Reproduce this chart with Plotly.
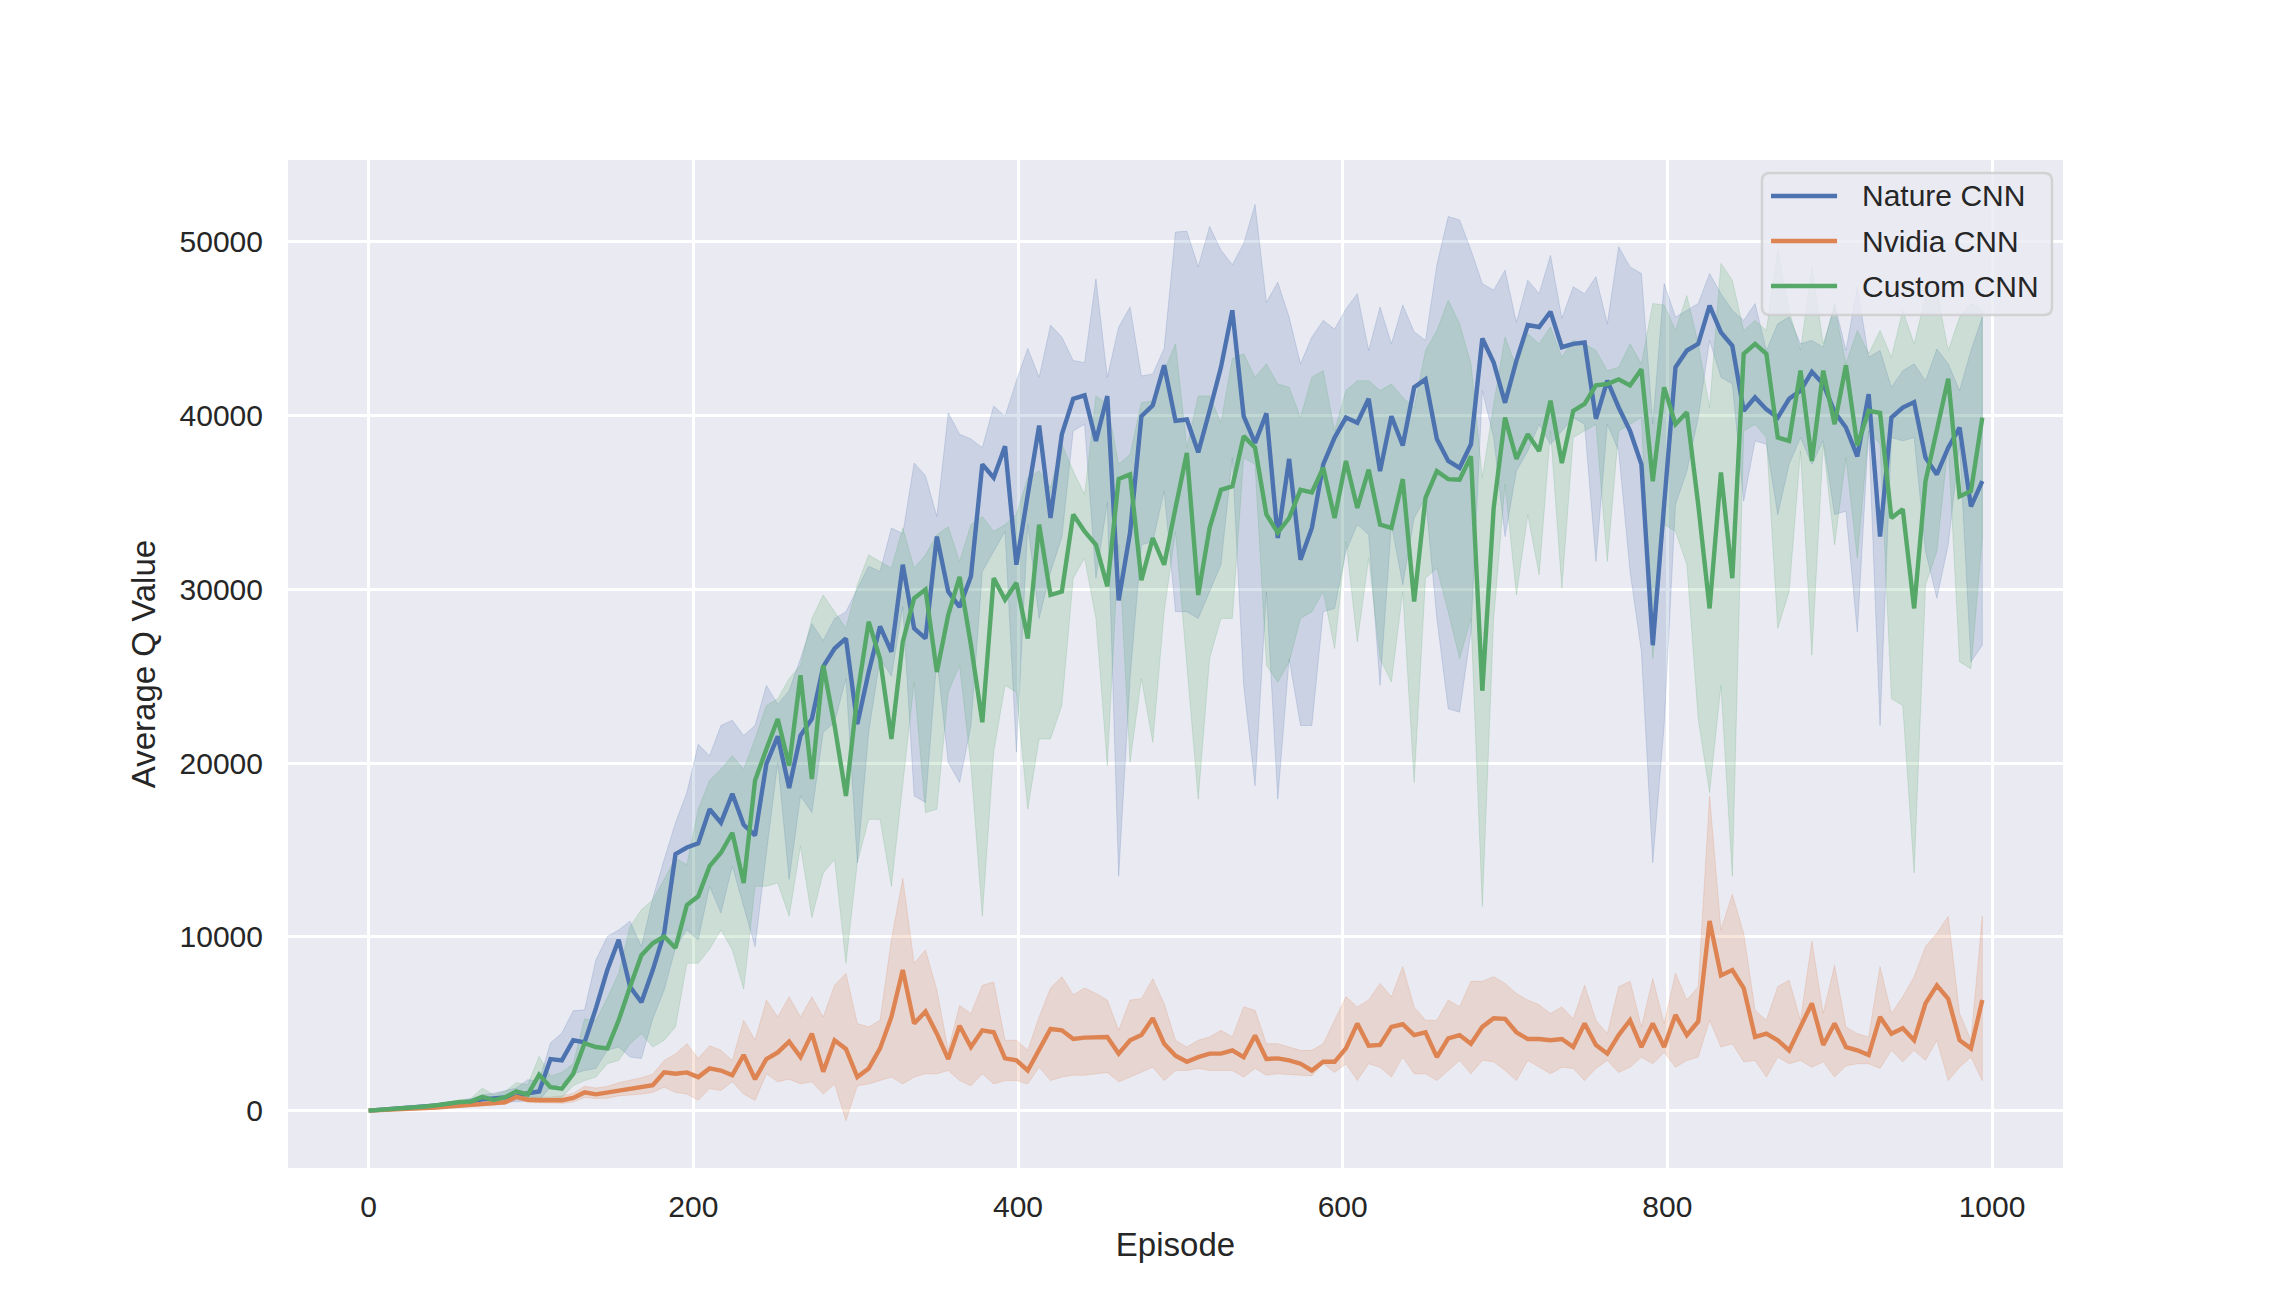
import plotly.graph_objects as go

# episodes are logged every 7 steps (0 .. 994)
EPISODES = list(range(0, 1000, 7))

NATURE_MEAN = [
    0, 40, 80, 130, 180, 240, 300, 380, 430, 520,
    650, 700, 780, 820, 1000, 1100, 2970, 2890, 4050, 3930,
    5900, 8090, 9830, 7130, 6240, 8090, 10210, 14760, 15140, 15380,
    17340, 16570, 18230, 16450, 15840, 19960, 21540, 18570, 21580, 22540,
    25550, 26590, 27170, 22240, 25240, 27860, 26400, 31410, 27750, 27170,
    33030, 29870, 28980, 30750, 37190, 36420, 38230, 31410, 35450, 39420,
    34100, 38920, 40960, 41160, 38540, 41120, 29360, 33260, 39960, 40580,
    42890, 39690, 39770, 37880, 40270, 42770, 46050, 39960, 38420, 40120,
    32950, 37500, 31700, 33530, 37190, 38730, 39880, 39580, 40960, 36800,
    39960, 38270, 41620, 42080, 38650, 37380, 36990, 38340, 44430, 43040,
    40730, 43160, 45200, 45090, 45970, 43930, 44120, 44200, 39810, 42000,
    40460, 39110, 37190, 26780, 34880, 42770, 43740, 44120, 46320, 44780,
    44010, 40270, 41040, 40350, 39880, 40960, 41430, 42510, 41810, 40190,
    39310, 37650, 41230, 33030, 39880, 40460, 40770, 37570, 36610, 38150,
    39310, 34760, 36220]
NATURE_HIGH = [
    0, 60, 110, 170, 230, 300, 380, 470, 560, 680,
    900, 1000, 1150, 1300, 1780, 1700, 3900, 4470, 5750, 5800,
    8680, 10020, 10400, 10900, 9440, 12220, 14450, 16570, 18300, 21080,
    20420, 22160, 22470, 21580, 22160, 24470, 23390, 24160, 26010, 28020,
    27050, 28320, 28710, 30060, 31330, 31020, 33530, 33200, 37260, 36530,
    34180, 40150, 38920, 38650, 38150, 40540, 39960, 42000, 43850, 42200,
    45200, 44510, 43160, 43040, 47860, 42200, 45090, 46240, 42270, 42390,
    43850, 50560, 50600, 48550, 50870, 49520, 48670, 49900, 52140, 46510,
    47670, 45660, 42970, 44510, 45470, 44970, 46130, 47010, 43740, 46240,
    44120, 46360, 44820, 44320, 48670, 51450, 51250, 49520, 47590, 47210,
    48360, 45360, 47780, 47010, 49210, 45590, 47400, 47010, 47980, 45280,
    49710, 48550, 48170, 39500, 47590, 45660, 46050, 46440, 48170, 47010,
    46050, 45470, 46440, 43740, 45280, 45660, 44120, 44320, 43930, 46440,
    43740, 47400, 43350, 43740, 41620, 42580, 42970, 42000, 43820, 42970,
    41430, 43740, 45660]
NATURE_LOW = [
    0, 25, 55, 90, 130, 170, 210, 260, 300, 350,
    420, 450, 480, 500, 550, 600, 1350, 1540, 2120, 2310,
    2430, 3470, 3660, 3080, 3000, 5280, 6940, 9360, 10400, 9830,
    12910, 11370, 14070, 11750, 9440, 14840, 20040, 13300, 18110, 17150,
    21770, 22350, 24860, 14260, 21770, 26010, 25000, 29000, 18110, 17730,
    26000, 20040, 18880, 22160, 31020, 32180, 33330, 20620, 33720, 28320,
    31000, 33000, 39110, 39500, 30640, 35000, 13490, 24860, 32560, 32750,
    35640, 28710, 28710, 28320, 29870, 31410, 37570, 24470, 18690, 29870,
    17920, 26000, 22160, 22160, 28710, 28900, 32180, 33720, 33140, 24470,
    33720, 30250, 34100, 35260, 28320, 23120, 22930, 27550, 41430, 38730,
    33030, 36800, 37960, 39500, 38340, 39110, 39880, 39500, 31600, 39500,
    37960, 31020, 26400, 14260, 22160, 34880, 36800, 39880, 44320, 42200,
    41810, 35070, 38540, 38340, 34300, 37190, 38730, 37190, 38540, 34300,
    34490, 27550, 39110, 22160, 38730, 38540, 38730, 32180, 29480, 32560,
    38340, 25820, 26780]

NVIDIA_MEAN = [
    0, 20, 40, 70, 100, 140, 180, 230, 280, 330,
    380, 400, 480, 790, 630, 600, 580, 600, 730, 1050,
    940, 1040, 1190, 1270, 1350, 1460, 2200, 2120, 2200, 1930,
    2430, 2310, 2040, 3200, 1810, 2970, 3350, 3970, 3080, 4430,
    2240, 4050, 3550, 1930, 2430, 3580, 5390, 8090, 5010, 5700,
    4430, 2970, 4890, 3660, 4620, 4510, 3010, 2890, 2310, 3470,
    4700, 4620, 4120, 4200, 4240, 4240, 3280, 4050, 4350, 5320,
    3850, 3160, 2810, 3080, 3280, 3280, 3470, 3080, 4320, 2970,
    3010, 2890, 2700, 2310, 2810, 2810, 3580, 5010, 3740, 3780,
    4820, 4970, 4350, 4510, 3080, 4160, 4350, 3850, 4820, 5320,
    5280, 4510, 4120, 4120, 4050, 4120, 3660, 5010, 3780, 3280,
    4350, 5200, 3660, 5010, 3660, 5510, 4350, 5130, 10910, 7780,
    8090, 7050, 4240, 4430, 4050, 3470, 4820, 6170, 3780, 5010,
    3660, 3470, 3200, 5390, 4430, 4740, 4050, 6170, 7210, 6440,
    4050, 3580, 6360]
NVIDIA_HIGH = [
    0, 25, 50, 85, 120, 170, 220, 280, 340, 400,
    470, 500, 620, 950, 780, 800, 780, 850, 1000, 1400,
    1300, 1400, 1600, 1750, 1900, 2100, 2890, 3260, 3850, 3010,
    3740, 3470, 2890, 5200, 4050, 6360, 5390, 6550, 5390, 6550,
    5390, 7210, 7900, 5010, 4820, 5200, 9830, 13370, 8480, 9250,
    6940, 3470, 6050, 5590, 7210, 7400, 4050, 4050, 3470, 5390,
    7050, 7710, 6670, 7050, 6740, 6360, 4620, 6360, 6440, 7590,
    6170, 4050, 3660, 4050, 4240, 4620, 4240, 5970, 5780, 3850,
    3850, 3660, 3470, 3470, 3850, 5200, 6550, 5970, 6360, 7320,
    6550, 8290, 5970, 5200, 5200, 6360, 5970, 7440, 7440, 7710,
    7320, 6740, 6360, 6090, 5590, 5970, 5280, 7210, 5200, 4430,
    7130, 7440, 4820, 7590, 5010, 7900, 6360, 7130, 18100, 10400,
    12450, 10210, 5780, 5200, 7130, 7510, 5200, 9750, 5590, 8360,
    4820, 4430, 4240, 8290, 5590, 6550, 7710, 9440, 10210, 11180,
    5590, 4050, 11180]
NVIDIA_LOW = [
    0, 15, 30, 55, 80, 110, 140, 180, 220, 260,
    300, 320, 380, 650, 480, 450, 430, 420, 500, 750,
    700, 720, 850, 900, 950, 1050, 1350, 1040, 960, 600,
    1270, 1160, 1660, 960, 580, 2120, 1660, 1810, 1540, 1660,
    960, 1540, -580, 1430, 1540, 1730, 1930, 1540, 1930, 2120,
    2120, 2310, 1730, 1430, 2120, 1540, 1730, 1730, 1540, 2500,
    1730, 1930, 2040, 2040, 2120, 2200, 1660, 1930, 2200, 2500,
    1730, 2310, 2310, 2430, 2310, 2310, 2310, 1930, 2430, 2040,
    2120, 2120, 2040, 2000, 2700, 2200, 2700, 1730, 2700, 2500,
    1930, 3080, 2120, 2120, 1730, 2310, 2890, 2120, 2890, 2810,
    2310, 1730, 2890, 2500, 2120, 2500, 2430, 1730, 2430, 2890,
    2200, 2500, 3080, 2700, 3350, 2500, 2890, 3080, 5200, 3660,
    3850, 2810, 2890, 1930, 3080, 2700, 2890, 2500, 2810, 1930,
    2580, 2700, 2700, 2430, 3470, 2810, 3470, 2890, 4050, 1730,
    2500, 3080, 1730]

CUSTOM_MEAN = [
    0, 40, 80, 130, 170, 240, 310, 420, 500, 520,
    790, 610, 770, 1110, 920, 2070, 1350, 1270, 2120, 3880,
    3660, 3580, 5200, 7130, 8940, 9630, 10020, 9360, 11830, 12330,
    14070, 14840, 15990, 13100, 19000, 20810, 22540, 19850, 25050, 19080,
    25630, 22160, 18110, 23890, 28130, 26010, 21390, 26970, 29480, 29980,
    25240, 28520, 30710, 26780, 22350, 30640, 29400, 30370, 27170, 33720,
    29670, 29870, 34300, 33330, 32560, 30170, 36340, 36610, 30520, 32950,
    31410, 34680, 37840, 29670, 33530, 35720, 35920, 38810, 38150, 34300,
    33260, 34100, 35720, 35570, 36990, 34100, 37380, 34680, 36880, 33720,
    33530, 36340, 29290, 35260, 36800, 36340, 36300, 37650, 24160, 34680,
    39880, 37500, 38920, 37960, 40850, 37260, 40270, 40660, 41730, 41810,
    42080, 41730, 42660, 36220, 41620, 39500, 40190, 34870, 28900, 36720,
    30640, 43550, 44120, 43550, 38730, 38540, 42580, 37380, 42580, 39500,
    42890, 38270, 40270, 40150, 34100, 34610, 28900, 36220, 39110, 42120,
    35340, 35650, 39880]
CUSTOM_HIGH = [
    0, 50, 100, 160, 220, 300, 380, 480, 600, 700,
    1300, 900, 1100, 1600, 1500, 3130, 2000, 2200, 2700, 5280,
    5200, 6480, 7900, 10600, 11560, 12140, 13300, 14530, 14150, 17340,
    19000, 19650, 20420, 19650, 21390, 23310, 23700, 24860, 25630, 28320,
    29670, 28710, 27750, 30250, 31980, 31600, 31210, 33530, 31210, 31980,
    33140, 33600, 31600, 33720, 34180, 33330, 33720, 34300, 36420, 36800,
    35840, 38340, 36800, 35450, 41120, 40650, 37190, 37760, 40730, 40850,
    42580, 44120, 38150, 41120, 41120, 39580, 43280, 43550, 42200, 42970,
    41810, 41620, 39880, 42200, 42580, 39110, 41430, 42000, 42000, 41430,
    41810, 41040, 40460, 43740, 44890, 46630, 45280, 42970, 36420, 40650,
    44510, 42770, 44700, 44120, 45090, 43350, 44320, 44120, 43740, 42580,
    42770, 44120, 42970, 46440, 46360, 44890, 46900, 44120, 40460, 48750,
    47780, 44890, 45470, 44890, 49520, 46050, 43740, 48550, 44120, 46240,
    42970, 44890, 43550, 44890, 43350, 46050, 44120, 46820, 47210, 43740,
    45660, 46440, 46050]
CUSTOM_LOW = [
    0, 30, 60, 100, 130, 180, 240, 300, 370, 400,
    600, 450, 550, 700, 650, 580, 660, 770, 1430, 1730,
    1930, 2700, 2890, 3850, 4430, 3660, 4050, 4820, 8480, 8480,
    9300, 10400, 9250, 7000, 12910, 12910, 13100, 11180, 15220, 11100,
    13680, 14450, 8480, 14260, 16760, 16760, 12910, 18690, 24660, 17150,
    17340, 24080, 25630, 19850, 11180, 20620, 24470, 24080, 17340, 21390,
    21390, 23310, 30640, 31790, 28320, 19850, 32560, 20040, 24860, 21190,
    28710, 33330, 25630, 17920, 26010, 28320, 28320, 37570, 37190, 25630,
    24660, 25820, 28320, 28710, 29870, 26590, 32760, 26970, 31790, 26010,
    24660, 29870, 18880, 30640, 31210, 28710, 26010, 28320, 11750, 28320,
    36030, 29670, 34300, 30830, 39110, 30060, 38730, 39110, 39500, 31600,
    39110, 39500, 39880, 26010, 33720, 33330, 31410, 22540, 18300, 24470,
    13490, 39110, 39500, 38730, 27750, 29870, 37960, 26200, 38340, 32560,
    37570, 31790, 39110, 38340, 23700, 23310, 13680, 30250, 32180, 38340,
    25820, 25430, 32950]

SERIES = [
    ('Nature CNN', NATURE_MEAN, NATURE_LOW, NATURE_HIGH, (76, 114, 176)),
    ('Nvidia CNN', NVIDIA_MEAN, NVIDIA_LOW, NVIDIA_HIGH, (221, 132, 82)),
    ('Custom CNN', CUSTOM_MEAN, CUSTOM_LOW, CUSTOM_HIGH, (85, 168, 104)),
]

FONT = 'Liberation Sans, Arial, sans-serif'
TEXT = '#262626'
LINE_W = 4.4

fig = go.Figure()

# confidence bands first so that every line sits on top of them
for name, mean, low, high, rgb in SERIES:
    band = 'rgba(%d,%d,%d,0.2)' % rgb
    fig.add_trace(go.Scatter(x=EPISODES + EPISODES[::-1], y=high + low[::-1],
                             mode='lines', fill='toself', fillcolor=band,
                             line=dict(color=band, width=1),
                             showlegend=False, hoverinfo='skip'))

for name, mean, low, high, rgb in SERIES:
    fig.add_trace(go.Scatter(x=EPISODES, y=mean, mode='lines', name=name,
                             showlegend=False,
                             line=dict(color='rgb(%d,%d,%d)' % rgb, width=LINE_W)))

# matplotlib-style legend box (paper coords of the plot area)
x0, x1, y0, y1 = 0.8304, 0.9938, 0.8462, 0.9871
rx, ry = 0.0045, 0.0079
box = ('M %f,%f L %f,%f Q %f,%f %f,%f L %f,%f Q %f,%f %f,%f '
       'L %f,%f Q %f,%f %f,%f L %f,%f Q %f,%f %f,%f Z') % (
    x0 + rx, y1, x1 - rx, y1, x1, y1, x1, y1 - ry,
    x1, y0 + ry, x1, y0, x1 - rx, y0,
    x0 + rx, y0, x0, y0, x0, y0 + ry,
    x0, y1 - ry, x0, y1, x0 + rx, y1)
shapes = [dict(type='path', path=box, xref='paper', yref='paper', layer='above',
               fillcolor='rgba(234,234,242,0.8)',
               line=dict(color='rgba(204,204,204,0.8)', width=2.5))]
annotations = []
rows = [0.9643, 0.9196, 0.8750]
for (name, mean, low, high, rgb), ry_ in zip(SERIES, rows):
    shapes.append(dict(type='line', xref='paper', yref='paper', layer='above',
                       x0=0.8355, x1=0.8727, y0=ry_, y1=ry_,
                       line=dict(color='rgb(%d,%d,%d)' % rgb, width=LINE_W)))
    annotations.append(dict(x=0.8856, y=ry_, xref='paper', yref='paper',
                            text=name, showarrow=False, xanchor='left',
                            yanchor='middle',
                            font=dict(family=FONT, size=30, color=TEXT)))

# the page body adds an 8px offset, so the figure is drawn 8px smaller
fig.update_layout(
    width=2280, height=1298,
    margin=dict(l=280, r=225, t=152, b=138),
    paper_bgcolor='white', plot_bgcolor='#EAEAF2',
    font=dict(family=FONT, size=30, color=TEXT),
    showlegend=False,
    shapes=shapes, annotations=annotations,
    xaxis=dict(range=[-49.7, 1043.7], tickvals=[0, 200, 400, 600, 800, 1000],
               showgrid=True, gridcolor='white', gridwidth=2.8,
               zeroline=False, showline=False, ticks='',
               ticklabelstandoff=18,
               tickfont=dict(family=FONT, size=30, color=TEXT),
               title=dict(text='Episode', standoff=10,
                          font=dict(family=FONT, size=33, color=TEXT))),
    yaxis=dict(range=[-3300, 54700],
               tickvals=[0, 10000, 20000, 30000, 40000, 50000], tickformat='d',
               showgrid=True, gridcolor='white', gridwidth=2.8,
               zeroline=False, showline=False, ticks='',
               ticklabelstandoff=24,
               tickfont=dict(family=FONT, size=30, color=TEXT),
               title=dict(text='Average Q Value', standoff=14,
                          font=dict(family=FONT, size=33, color=TEXT))),
)

fig.write_html("out.html")
